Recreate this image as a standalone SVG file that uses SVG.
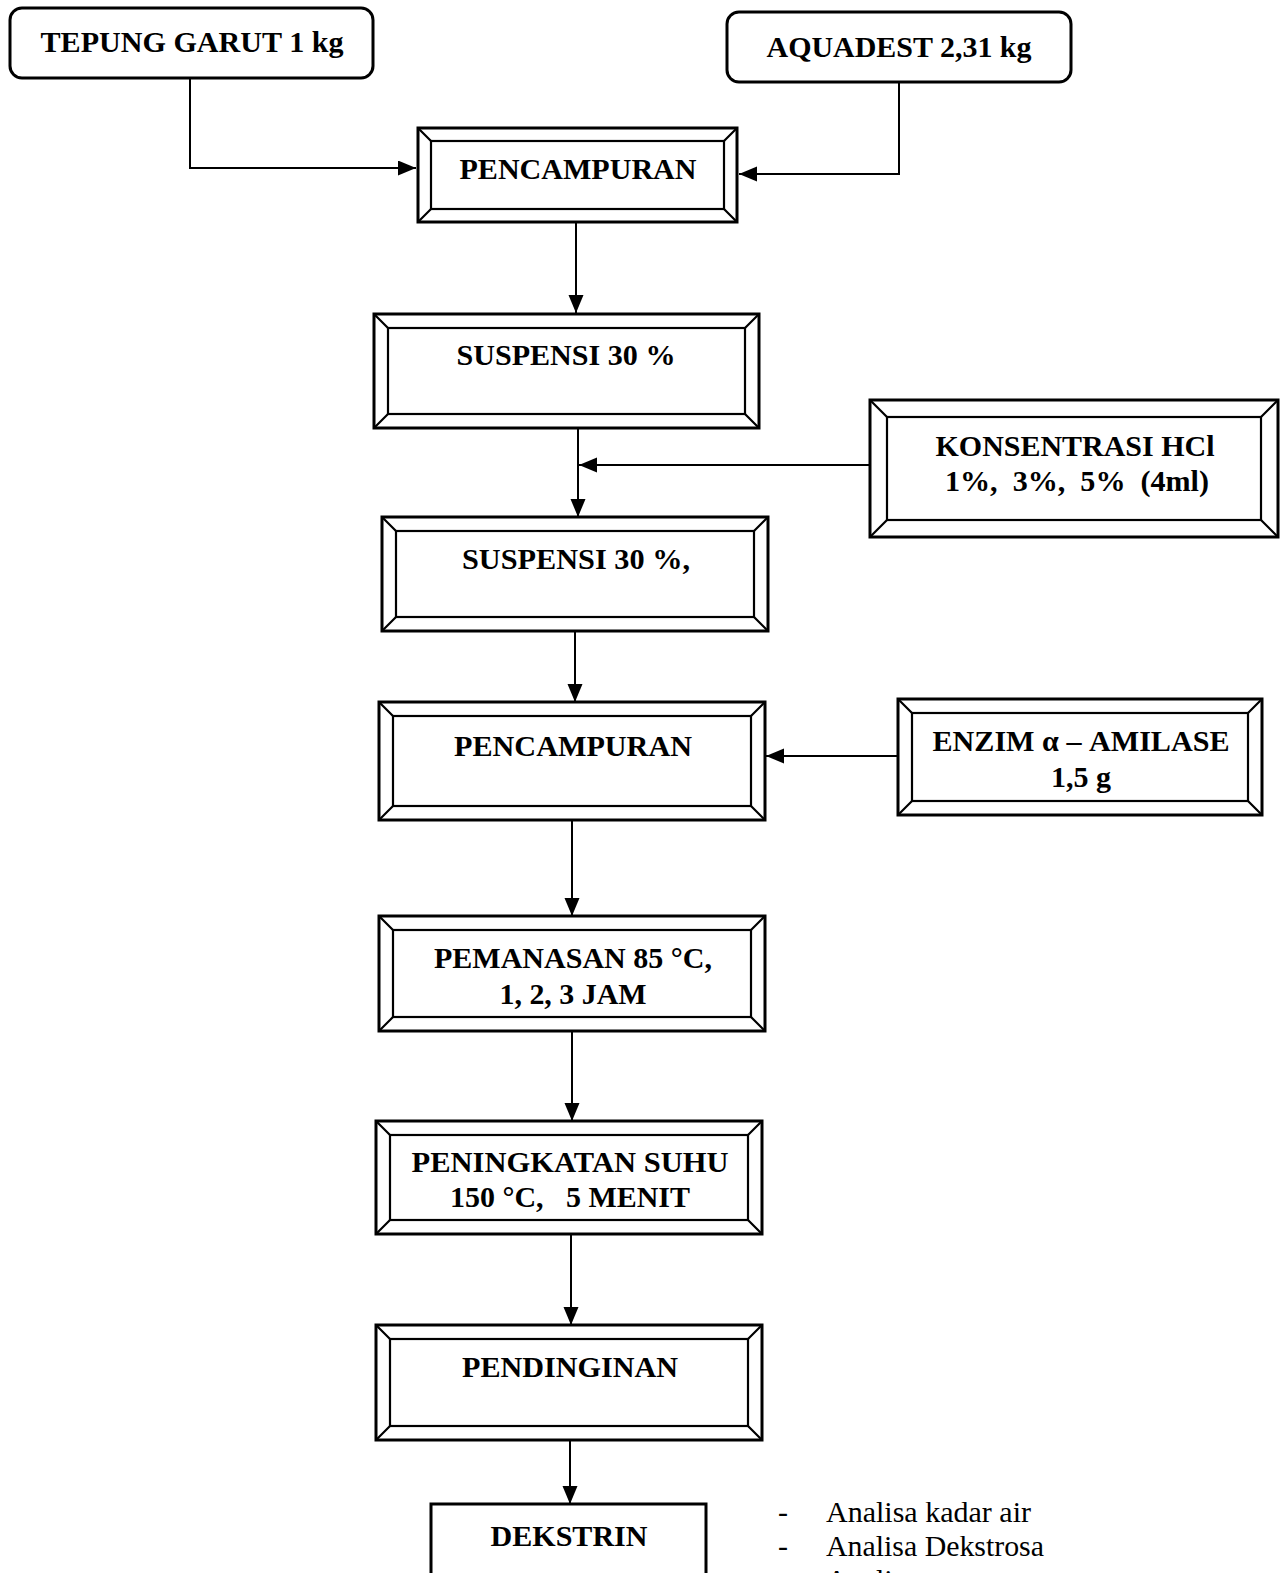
<svg xmlns="http://www.w3.org/2000/svg" width="1281" height="1573" viewBox="0 0 1281 1573">
<defs>
<style>
.box{fill:#fff;stroke:#000;stroke-width:3}
.in{fill:none;stroke:#000;stroke-width:2.2}
.t{font-family:"Liberation Serif","Times New Roman",serif;font-weight:bold;font-size:30px;text-anchor:middle;fill:#000;white-space:pre}
.r{font-family:"Liberation Serif","Times New Roman",serif;font-size:30px;fill:#000}
.c{fill:none;stroke:#000;stroke-width:2}
</style>
<marker id="ah" markerUnits="userSpaceOnUse" markerWidth="20" markerHeight="16" refX="18" refY="7.5" orient="auto">
<path d="M0,0 L18,7.5 L0,15 z" fill="#000"/>
</marker>
</defs>
<rect width="1281" height="1573" fill="#fff"/>

<g id="connectors">
<path class="c" d="M190,78 V168 H416" marker-end="url(#ah)"/>
<path class="c" d="M899,82 V174 H739" marker-end="url(#ah)"/>
<path class="c" d="M576,222 V313" marker-end="url(#ah)"/>
<path class="c" d="M578,428 V517" marker-end="url(#ah)"/>
<path class="c" d="M870,465 H579" marker-end="url(#ah)"/>
<path class="c" d="M575,631 V702" marker-end="url(#ah)"/>
<path class="c" d="M898,756 H766" marker-end="url(#ah)"/>
<path class="c" d="M572,820 V916" marker-end="url(#ah)"/>
<path class="c" d="M572,1031 V1121" marker-end="url(#ah)"/>
<path class="c" d="M571,1234 V1325" marker-end="url(#ah)"/>
<path class="c" d="M570,1440 V1504" marker-end="url(#ah)"/>
</g>

<g id="tepung">
<rect class="box" x="10" y="8" width="363" height="70" rx="12"/>
<text class="t" x="192" y="52" textLength="303" lengthAdjust="spacingAndGlyphs">TEPUNG GARUT 1 kg</text>
</g>

<g id="aquadest">
<rect class="box" x="727" y="12" width="344" height="70" rx="12"/>
<text class="t" x="899" y="57" textLength="265" lengthAdjust="spacingAndGlyphs">AQUADEST 2,31 kg</text>
</g>

<g id="pencampuran1">
<rect class="box" x="418" y="128" width="319" height="94"/>
<rect class="in" x="431" y="141" width="293" height="68"/>
<path class="in" d="M418,128 L431,141 M737,128 L724,141 M418,222 L431,209 M737,222 L724,209"/>
<text class="t" x="578" y="179" textLength="237" lengthAdjust="spacingAndGlyphs">PENCAMPURAN</text>
</g>

<g id="suspensi1">
<rect class="box" x="374" y="314" width="385" height="114"/>
<rect class="in" x="388" y="328" width="357" height="86"/>
<path class="in" d="M374,314 L388,328 M759,314 L745,328 M374,428 L388,414 M759,428 L745,414"/>
<text class="t" x="566" y="365" textLength="219" lengthAdjust="spacingAndGlyphs">SUSPENSI 30 %</text>
</g>

<g id="konsentrasi">
<rect class="box" x="870" y="400" width="408" height="137"/>
<rect class="in" x="887" y="417" width="374" height="103"/>
<path class="in" d="M870,400 L887,417 M1278,400 L1261,417 M870,537 L887,520 M1278,537 L1261,520"/>
<text class="t" x="1075" y="456" textLength="279" lengthAdjust="spacingAndGlyphs">KONSENTRASI HCl</text>
<text class="t" x="1077" y="491" textLength="264" lengthAdjust="spacingAndGlyphs">1%,  3%,  5%  (4ml)</text>
</g>

<g id="suspensi2">
<rect class="box" x="382" y="517" width="386" height="114"/>
<rect class="in" x="396" y="531" width="358" height="86"/>
<path class="in" d="M382,517 L396,531 M768,517 L754,531 M382,631 L396,617 M768,631 L754,617"/>
<text class="t" x="576" y="569" textLength="228" lengthAdjust="spacingAndGlyphs">SUSPENSI 30 %,</text>
</g>

<g id="pencampuran2">
<rect class="box" x="379" y="702" width="386" height="118"/>
<rect class="in" x="393" y="716" width="358" height="90"/>
<path class="in" d="M379,702 L393,716 M765,702 L751,716 M379,820 L393,806 M765,820 L751,806"/>
<text class="t" x="573" y="756" textLength="238" lengthAdjust="spacingAndGlyphs">PENCAMPURAN</text>
</g>

<g id="enzim">
<rect class="box" x="898" y="699" width="364" height="116"/>
<rect class="in" x="912" y="713" width="336" height="88"/>
<path class="in" d="M898,699 L912,713 M1262,699 L1248,713 M898,815 L912,801 M1262,815 L1248,801"/>
<text class="t" x="1081" y="751" textLength="297" lengthAdjust="spacingAndGlyphs">ENZIM α – AMILASE</text>
<text class="t" x="1081" y="787" textLength="60" lengthAdjust="spacingAndGlyphs">1,5 g</text>
</g>

<g id="pemanasan">
<rect class="box" x="379" y="916" width="386" height="115"/>
<rect class="in" x="393" y="930" width="358" height="87"/>
<path class="in" d="M379,916 L393,930 M765,916 L751,930 M379,1031 L393,1017 M765,1031 L751,1017"/>
<text class="t" x="573" y="968" textLength="278" lengthAdjust="spacingAndGlyphs">PEMANASAN 85 °C,</text>
<text class="t" x="573" y="1004" textLength="147" lengthAdjust="spacingAndGlyphs">1, 2, 3 JAM</text>
</g>

<g id="peningkatan">
<rect class="box" x="376" y="1121" width="386" height="113"/>
<rect class="in" x="390" y="1135" width="358" height="85"/>
<path class="in" d="M376,1121 L390,1135 M762,1121 L748,1135 M376,1234 L390,1220 M762,1234 L748,1220"/>
<text class="t" x="570" y="1172" textLength="317" lengthAdjust="spacingAndGlyphs">PENINGKATAN SUHU</text>
<text class="t" x="570" y="1207" textLength="240" lengthAdjust="spacingAndGlyphs">150 °C,   5 MENIT</text>
</g>

<g id="pendinginan">
<rect class="box" x="376" y="1325" width="386" height="115"/>
<rect class="in" x="390" y="1339" width="358" height="87"/>
<path class="in" d="M376,1325 L390,1339 M762,1325 L748,1339 M376,1440 L390,1426 M762,1440 L748,1426"/>
<text class="t" x="570" y="1377" textLength="216" lengthAdjust="spacingAndGlyphs">PENDINGINAN</text>
</g>

<g id="dekstrin">
<rect class="box" x="431" y="1504" width="275" height="100"/>
<text class="t" x="569" y="1546" textLength="157" lengthAdjust="spacingAndGlyphs">DEKSTRIN</text>
</g>

<g id="analisa">
<text class="r" x="778" y="1522">-</text>
<text class="r" x="826" y="1522" textLength="205" lengthAdjust="spacingAndGlyphs">Analisa kadar air</text>
<text class="r" x="778" y="1556">-</text>
<text class="r" x="826" y="1556" textLength="218" lengthAdjust="spacingAndGlyphs">Analisa Dekstrosa</text>
<text class="r" x="778" y="1590">-</text>
<text class="r" x="826" y="1590">Analisa</text>
</g>
</svg>
